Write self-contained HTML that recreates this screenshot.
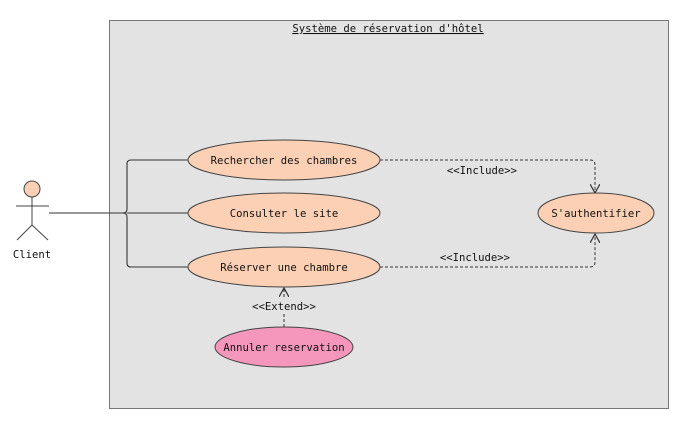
<!DOCTYPE html>
<html><head><meta charset="utf-8"><style>
html,body{margin:0;padding:0;background:#fff;}
svg{display:block;}
text{font-family:"DejaVu Sans Mono","Liberation Mono",monospace;font-size:10.6px;fill:#111;}
</style></head><body>
<svg width="688" height="429" viewBox="0 0 688 429">
<defs>
<marker id="ah" viewBox="0 0 10 10" refX="9" refY="5" markerWidth="10" markerHeight="10" orient="auto" markerUnits="userSpaceOnUse">
<path d="M0,0 L9,5 L0,10" fill="none" stroke="#333" stroke-width="1.2"/>
</marker>
</defs>
<rect x="109.5" y="20.5" width="559" height="388" fill="#e3e3e3" stroke="#777" stroke-width="1"/>
<text x="388" y="32" text-anchor="middle" text-decoration="underline">Système de réservation d'hôtel</text>
<circle cx="32" cy="189" r="8" fill="#fcd0b4" stroke="#444"/>
<line x1="32" y1="197" x2="32" y2="225" stroke="#444"/>
<line x1="16" y1="206" x2="49" y2="206" stroke="#444"/>
<line x1="32" y1="225" x2="17" y2="240" stroke="#444"/>
<line x1="32" y1="225" x2="48" y2="240" stroke="#444"/>
<text x="32" y="258" text-anchor="middle">Client</text>
<path d="M49,213 L123,213 M188,160 L131,160 Q127,160 127,164 L127,209 Q127,213 123,213 Q127,213 127,217 L127,263 Q127,267 131,267 L188,267 M127,213 L188,213" fill="none" stroke="#333" stroke-width="1.1"/>
<path d="M380,160 L590,160 Q595,160 595,165 L595,193" fill="none" stroke="#333" stroke-dasharray="3,2" marker-end="url(#ah)"/>
<path d="M380,267 L590,267 Q595,267 595,262 L595,234" fill="none" stroke="#333" stroke-dasharray="3,2" marker-end="url(#ah)"/>
<path d="M284,327 L284,288" fill="none" stroke="#333" stroke-dasharray="3,2" marker-end="url(#ah)"/>
<text x="482" y="174" text-anchor="middle">&lt;&lt;Include&gt;&gt;</text>
<text x="475" y="261" text-anchor="middle">&lt;&lt;Include&gt;&gt;</text>
<rect x="252" y="299" width="64" height="14" fill="#e3e3e3"/>
<text x="284" y="310" text-anchor="middle">&lt;&lt;Extend&gt;&gt;</text>
<ellipse cx="284" cy="160" rx="96" ry="20" fill="#fcd0b4" stroke="#444"/>
<text x="284" y="164" text-anchor="middle">Rechercher des chambres</text>
<ellipse cx="284" cy="213" rx="96" ry="20" fill="#fcd0b4" stroke="#444"/>
<text x="284" y="217" text-anchor="middle">Consulter le site</text>
<ellipse cx="284" cy="267" rx="96" ry="20" fill="#fcd0b4" stroke="#444"/>
<text x="284" y="271" text-anchor="middle">Réserver une chambre</text>
<ellipse cx="596" cy="213" rx="58" ry="20" fill="#fcd0b4" stroke="#444"/>
<text x="596" y="217" text-anchor="middle">S'authentifier</text>
<ellipse cx="284" cy="347" rx="69" ry="20" fill="#f596bd" stroke="#444"/>
<text x="284" y="351" text-anchor="middle">Annuler reservation</text>
</svg>
</body></html>
